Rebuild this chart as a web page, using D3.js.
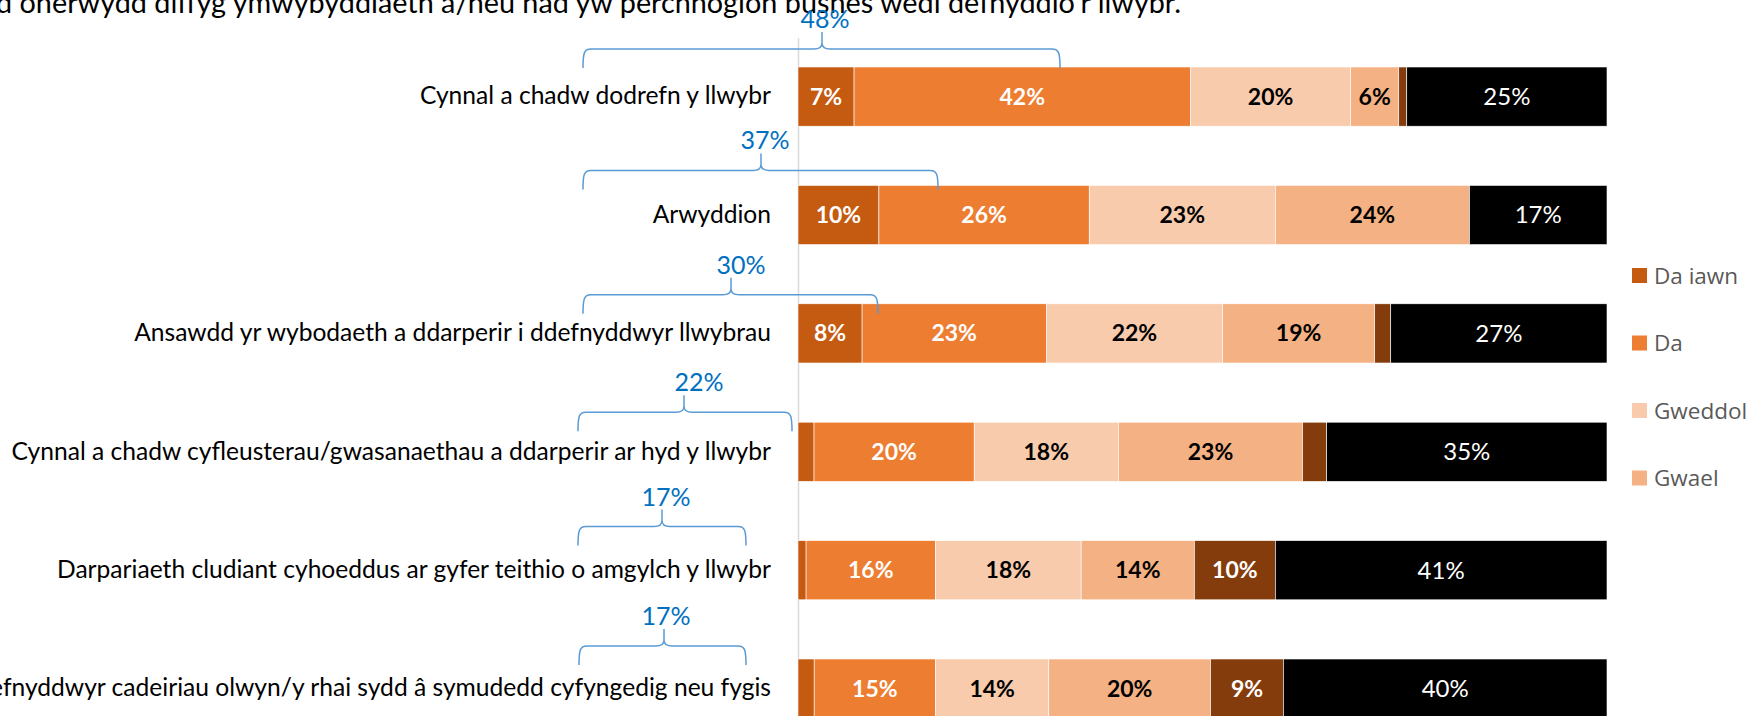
<!DOCTYPE html>
<html>
<head>
<meta charset="utf-8">
<script src="https://cdn.jsdelivr.net/npm/d3@7"></script>
<style>
  body { margin: 0; background: #fff; }
  svg { display: block; }
</style>
</head>
<body>
<svg></svg>
<script>

/* Data */
var categories = [
    "Cynnal a chadw dodrefn y llwybr",
    "Arwyddion",
    "Ansawdd yr wybodaeth a ddarperir i ddefnyddwyr llwybrau",
    "Cynnal a chadw cyfleusterau/gwasanaethau a ddarperir ar hyd y llwybr",
    "Darpariaeth cludiant cyhoeddus ar gyfer teithio o amgylch y llwybr",
    "Hygyrchedd i ddefnyddwyr cadeiriau olwyn/y rhai sydd â symudedd cyfyngedig neu fygis"
]

var seriesNames = ["Da iawn", "Da", "Gweddol", "Gwael", "Gwael iawn", "Ddim yn gwybod"]

var daIawn     = [7, 10, 8, 2, 1, 2]
var da         = [42, 26, 23, 20, 16, 15]
var gweddol    = [20, 23, 22, 18, 18, 14]
var gwael      = [6, 24, 19, 23, 14, 20]
var gwaelIawn  = [1, 0, 2, 3, 10, 9]
var ddimGwybod = [25, 17, 27, 35, 41, 40]

var braceLabels = ["48%", "37%", "30%", "22%", "17%", "17%"]

var title = "Mae’r gyfradd uchel o atebion ‘ddim yn gwybod’ yn debygol o fod oherwydd diffyg ymwybyddiaeth a/neu nad yw perchnogion busnes wedi defnyddio’r llwybr."

/* Table for d3.stack */
var table = categories.map(function (c, i) {
    return {
        cat: c,
        "Da iawn": daIawn[i],
        "Da": da[i],
        "Gweddol": gweddol[i],
        "Gwael": gwael[i],
        "Gwael iawn": gwaelIawn[i],
        "Ddim yn gwybod": ddimGwybod[i]
    }
})

/* Layout */
var width = 1754
var height = 716
var left = 798
var right = 1607

var colors = ["#c55a11", "#ed7d31", "#f8cbad", "#f4b183", "#843c0c", "#000000"]
var labelColors = ["#fff", "#fff", "#000", "#000", "#fff", "#fff"]
var labelWeights = ["bold", "bold", "bold", "bold", "bold", "normal"]
var labelSizes = [23, 23, 23, 23, 23, 24]

// hand-placed brace shapes: left end, right end, tip x, text x, baseline offset from bar top
var braceLayout = [
    { x0: 583, x1: 1060, tip: 822, tx: 825, rise: 39 },
    { x0: 583, x1: 938, tip: 761, tx: 765, rise: 36 },
    { x0: 583, x1: 878, tip: 731, tx: 741, rise: 30 },
    { x0: 578, x1: 792, tip: 684, tx: 699, rise: 31 },
    { x0: 578, x1: 746, tip: 662, tx: 666, rise: 35 },
    { x0: 579, x1: 746, tip: 664, tx: 666, rise: 34 }
]

var svg = d3.select("svg")
    .attr("width", width)
    .attr("height", height)

/* Scales */
var yScale = d3.scaleBand()
    .domain(categories)
    .range([37.4, 747.8])
    .paddingInner(0.5)
    .paddingOuter(0.25)

var xScale = d3.scaleLinear()
    .domain([0, 1])
    .range([left, right])

var colorScale = d3.scaleOrdinal()
    .domain(seriesNames)
    .range(colors)

var stack = d3.stack()
    .keys(seriesNames)
    .offset(d3.stackOffsetExpand)

var stacked = stack(table)

/* Title (cut off at top/left like the source) */
svg.append("text")
    .attr("x", 1181)
    .attr("y", 13)
    .attr("text-anchor", "end")
    .attr("font-family", "Lato, sans-serif")
    .attr("font-size", 28.8)
    .attr("fill", "#000")
    .text(title)

/* Y axis: gray line + category labels */
var yAxis = d3.axisLeft(yScale)
    .tickSize(0)
    .tickPadding(27)

var gy = svg.append("g")
    .attr("transform", "translate(" + left + ",0)")
    .call(yAxis)

gy.select(".domain")
    .attr("stroke", "#d9d9d9")
    .attr("stroke-width", 1.5)

gy.selectAll("text")
    .attr("font-family", "Lato, sans-serif")
    .attr("font-size", 24.6)
    .attr("fill", "#000")

/* Bars */
var layers = svg.append("g")
    .selectAll("g")
    .data(stacked)
    .enter()
        .append("g")
            .attr("fill", (d) => colorScale(d.key))

layers.selectAll("rect")
    .data((d) => d)
    .enter()
        .append("rect")
            .attr("x", (d) => xScale(d[0]))
            .attr("y", (d) => yScale(d.data.cat))
            .attr("width", (d) => xScale(d[1]) - xScale(d[0]))
            .attr("height", yScale.bandwidth())
            .attr("stroke", "#fff")
            .attr("stroke-width", 0.6)

/* Bar labels */
layers.each(function (layer, si) {
    d3.select(this).selectAll("text")
        .data(layer.filter((d) => d.data[layer.key] >= 4))
        .enter()
            .append("text")
                .attr("x", (d) => (xScale(d[0]) + xScale(d[1])) / 2)
                .attr("y", (d) => yScale(d.data.cat) + yScale.bandwidth() / 2)
                .attr("dy", "0.35em")
                .attr("text-anchor", "middle")
                .attr("font-family", "Lato, sans-serif")
                .attr("font-size", labelSizes[si])
                .attr("font-weight", labelWeights[si])
                .attr("fill", labelColors[si])
                .text((d) => d.data[layer.key] + "%")
})

/* Braces */
function bracePath(b, top) {
    var base = top - b.rise
    var yTip = base + 4
    var yLine = base + 21
    var yEnd = yLine + 19
    var r = 8
    var p = d3.path()
    p.moveTo(b.x0, yEnd)
    p.bezierCurveTo(b.x0, yLine + 4, b.x0 + 1, yLine, b.x0 + r, yLine)
    p.lineTo(b.tip - r, yLine)
    p.bezierCurveTo(b.tip - 2, yLine, b.tip, yLine - 2, b.tip, yLine - 6)
    p.lineTo(b.tip, yTip)
    p.moveTo(b.tip, yLine - 6)
    p.bezierCurveTo(b.tip, yLine - 2, b.tip + 2, yLine, b.tip + r, yLine)
    p.lineTo(b.x1 - r, yLine)
    p.bezierCurveTo(b.x1 - 1, yLine, b.x1, yLine + 4, b.x1, yEnd)
    return p.toString()
}

var braces = svg.append("g")
    .selectAll("g")
    .data(categories)
    .enter()
        .append("g")

braces.append("path")
    .attr("d", (d, i) => bracePath(braceLayout[i], yScale(d)))
    .attr("fill", "none")
    .attr("stroke", "#5b9bd5")
    .attr("stroke-width", 1.5)

braces.append("text")
    .attr("x", (d, i) => braceLayout[i].tx)
    .attr("y", (d, i) => yScale(d) - braceLayout[i].rise)
    .attr("text-anchor", "middle")
    .attr("font-family", "Lato, sans-serif")
    .attr("font-size", 25)
    .attr("fill", "#0070c0")
    .text((d, i) => braceLabels[i])

/* Legend (only the first four entries are visible in the source) */
var legend = svg.append("g")
    .selectAll("g")
    .data(seriesNames.slice(0, 4))
    .enter()
        .append("g")
            .attr("transform", (d, i) => "translate(1632," + (275.5 + i * 67.5) + ")")

legend.append("rect")
    .attr("x", 0)
    .attr("y", -7.5)
    .attr("width", 15)
    .attr("height", 15)
    .attr("fill", (d) => colorScale(d))

legend.append("text")
    .attr("x", 22)
    .attr("dy", "0.36em")
    .attr("font-family", "'Open Sans', sans-serif")
    .attr("font-size", 22.5)
    .attr("fill", "#595959")
    .text((d) => d)

</script>
</body>
</html>
